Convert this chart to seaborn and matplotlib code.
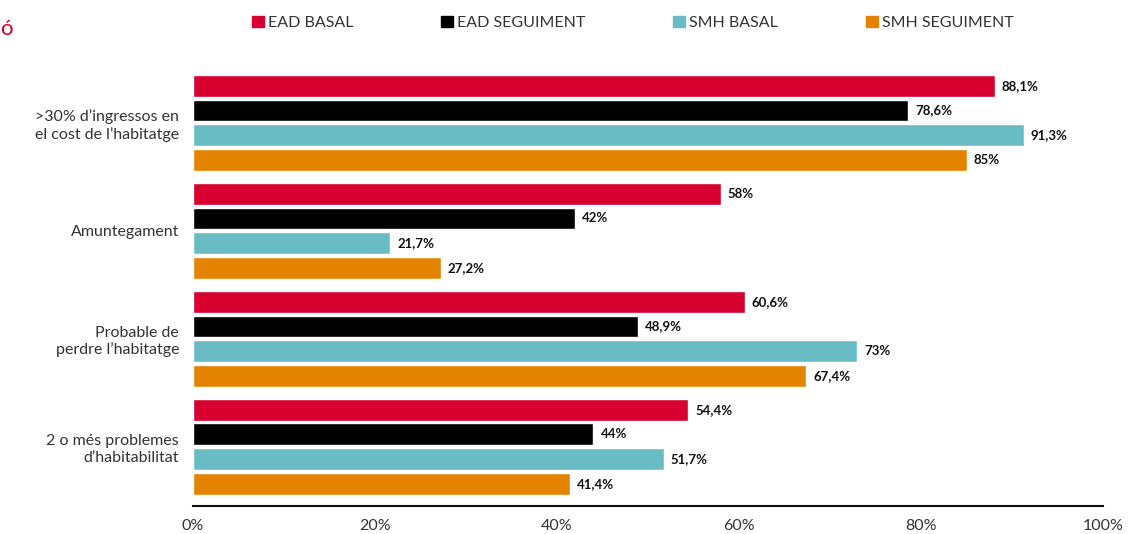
import numpy as np
import pandas as pd
import matplotlib
matplotlib.use('Agg')
import matplotlib.pyplot as plt
import seaborn as sns
from matplotlib.patches import Patch

# dades
categories = ['>30% d’ingressos en\nel cost de l’habitatge', 'Amuntegament',
              'Probable de\nperdre l’habitatge', '2 o més problemes\nd’habitabilitat']
groups = ['EAD BASAL', 'EAD SEGUIMENT', 'SMH BASAL', 'SMH SEGUIMENT']
ead_basal = [88.1, 58, 60.6, 54.4]
ead_seguiment = [78.6, 42, 48.9, 44]
smh_basal = [91.3, 21.7, 73, 51.7]
smh_seguiment = [85, 27.2, 67.4, 41.4]
colors = ['#d7002e', '#000000', '#69bcc4', '#e38300']
xticks = [0, 20, 40, 60, 80, 100]

df = pd.DataFrame({
    'cat': categories * 4,
    'grup': np.repeat(groups, 4),
    'valor': ead_basal + ead_seguiment + smh_basal + smh_seguiment,
})

sns.set_style('white')
plt.rcParams['font.family'] = ['Lato', 'DejaVu Sans']

fig = plt.figure(figsize=(11.35, 5.34), dpi=100)
ax = fig.add_axes([0.170, 0.052, 0.802, 0.817])

sns.barplot(data=df, y='cat', x='valor', hue='grup', hue_order=groups,
            order=categories, palette=colors, orient='h', width=0.92, gap=0.12,
            saturation=1, legend=False, ax=ax)

# etiquetes de valor
for cont in ax.containers:
    labs = [f"{b.get_width():g}".replace('.', ',') + '%' for b in cont]
    ax.bar_label(cont, labels=labs, padding=5, fontsize=9.5, fontweight='bold',
                 color='#111111')

ax.set_xlim(0, 100)
ax.set_ylim(3.55, -0.49)
ax.set_xticks(xticks)
ax.set_xticklabels([f'{t}%' for t in xticks], fontsize=11.5, color='#333333')
ax.tick_params(axis='y', labelsize=11.5, labelcolor='#333333', length=0, pad=10)
ax.tick_params(axis='x', length=0, pad=9)
for lab in ax.get_yticklabels():
    lab.set_multialignment('right')
ax.set_xlabel('')
ax.set_ylabel('')
for s in ['top', 'right', 'left']:
    ax.spines[s].set_visible(False)
ax.spines['bottom'].set_color('#111111')
ax.spines['bottom'].set_linewidth(1.5)

handles = [Patch(color=c) for c in colors]
fig.legend(handles, groups, loc='center left', bbox_to_anchor=(0.209, 0.957),
           ncol=4, frameon=False, fontsize=11.5, handlelength=0.75, handleheight=0.75,
           handletextpad=0.25, columnspacing=5.5, labelcolor='#333333')

fig.text(0.0, 0.945, 'ó', color='#d7002e', fontsize=16, va='center', ha='left')

fig.savefig('out.png', dpi=100)
